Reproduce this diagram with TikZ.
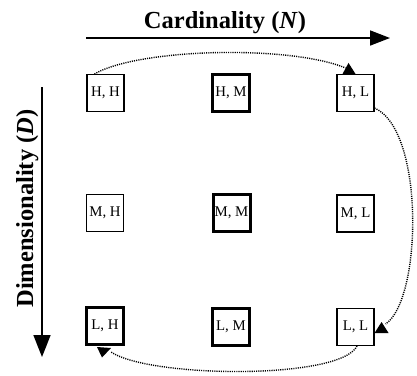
\documentclass[tikz,border=0pt]{standalone}
\usepackage{fontspec}
\setmainfont{Liberation Serif}
\usetikzlibrary{arrows.meta}
\begin{document}
\begin{tikzpicture}[x=1pt,y=-1pt,
  cell/.style={draw, line width=1.1pt, minimum size=37pt, inner sep=0pt, font=\fontsize{14.8}{16}\selectfont},
  thickcell/.style={cell, line width=3pt},
  flow/.style={line width=1.4pt, dash pattern=on 1.1pt off 1.1pt},
  axis/.style={line width=1.7pt},
  axislabel/.style={font=\bfseries\fontsize{24.5}{28}\selectfont, inner sep=0pt}]
\useasboundingbox (0,0) rectangle (417,375);
% grid of cells
\node[cell]      (HH) at (105.5,93)  {H, H};
\node[thickcell] (HM) at (231,93)    {H, M};
\node[cell]      (HL) at (355.5,93)  {H, L};
\node[cell]      (MH) at (105,213)   {M, H};
\node[thickcell] (MM) at (231.5,213) {M, M};
\node[cell]      (ML) at (355.5,213.5) {M, L};
\node[thickcell] (LH) at (105,326)   {L, H};
\node[thickcell] (LM) at (231,327)   {L, M};
\node[cell]      (LL) at (355.5,327) {L, L};
% axes
\coordinate (hs) at (86,38);
\coordinate (he) at (390,38);
\draw[axis,-{Triangle[length=20pt,width=15pt]}] (hs) -- (he);
\node[axislabel, anchor=base] (title) at (225,28) {Cardinality (\textit{N})};
\coordinate (vs) at (42,87);
\coordinate (ve) at (42,357);
\draw[axis,-{Triangle[length=22pt,width=17pt]}] (vs) -- (ve);
\node[axislabel, rotate=90, anchor=base] (dlabel) at (33,208.5) {Dimensionality (\textit{D})};
% dotted flow
\draw[flow] ([xshift=8pt]HH.north west) .. controls (140,48) and (290,45) .. ([xshift=-10pt,yshift=6pt]HL.north);
\fill ([xshift=-13pt]HL.north) -- ++(6,-11) -- ++(7,11) -- cycle;
\draw[flow] ([yshift=4pt]HL.south east) .. controls (425,130) and (422,300) .. ([xshift=11pt,yshift=3pt]LL.east);
\fill ([yshift=-6pt]LL.east) -- ++(7,-11) -- ++(7,11) -- cycle;
\draw[flow] ([xshift=1.5pt]LL.south) .. controls (340,380) and (150,378) .. ([xshift=6pt,yshift=-6pt]LH.south);
\fill ([xshift=-8pt,yshift=-1pt]LH.south) -- ++(14,1) -- ++(-9,9.5) -- cycle;
\end{tikzpicture}
\end{document}
